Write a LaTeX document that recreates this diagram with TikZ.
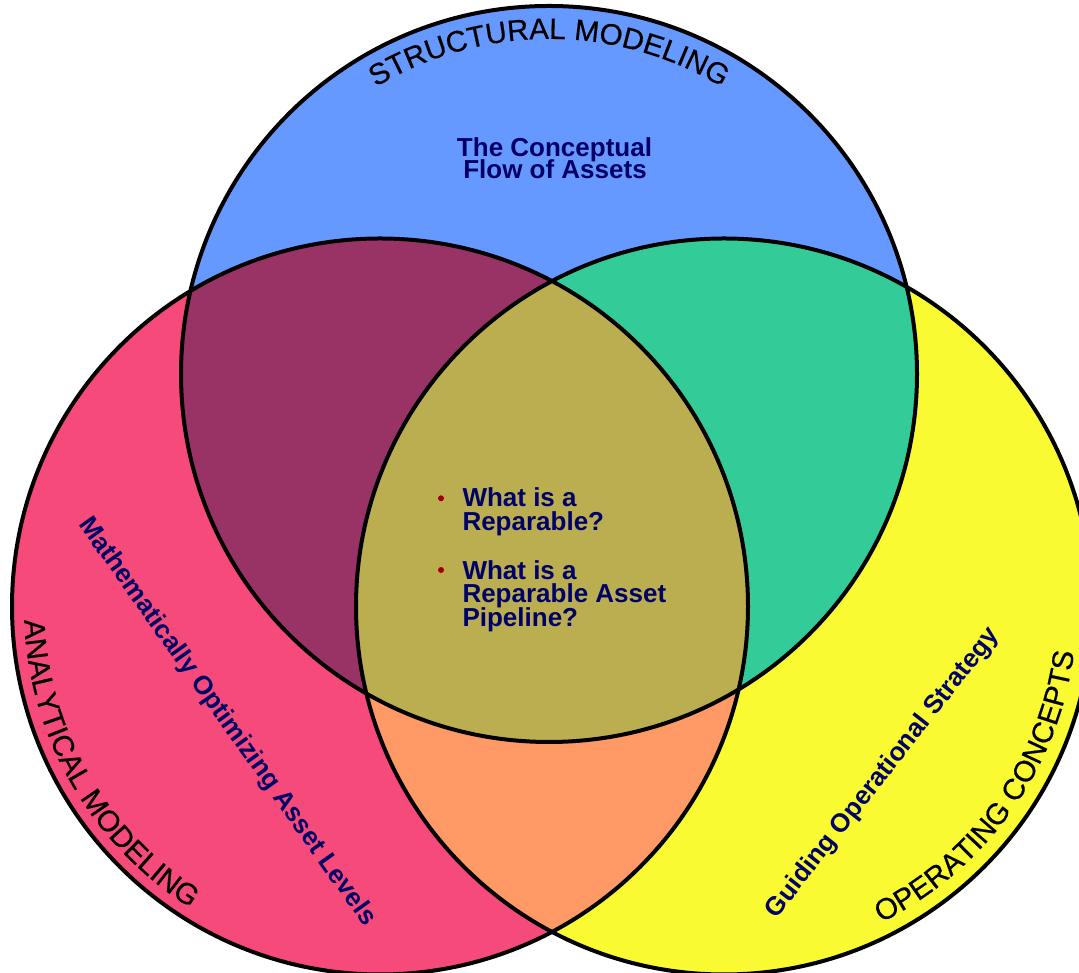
\documentclass[tikz,border=0pt]{standalone}
\usepackage{fontspec}
\setmainfont{Liberation Sans}
\newfontfamily\ringfont[FakeBold=0.5]{Liberation Sans}
\usetikzlibrary{decorations.text}

\definecolor{structBlue}{RGB}{102,153,255}
\definecolor{analyPink}{RGB}{246,74,122}
\definecolor{operYellow}{RGB}{250,250,50}
\definecolor{mixMaroon}{RGB}{153,51,102}
\definecolor{mixTeal}{RGB}{51,204,153}
\definecolor{mixOrange}{RGB}{255,153,102}
\definecolor{mixOlive}{RGB}{187,174,80}
\definecolor{navyText}{RGB}{0,0,102}
\definecolor{bulletRed}{RGB}{160,0,0}

\begin{document}
\begin{tikzpicture}[x=1pt,y=1pt,
  ring/.style={line width=4pt, draw=black},
  note/.style={font=\fontsize{26}{26}\selectfont\bfseries, text=navyText, inner sep=0pt},
  bulletdot/.style={fill=bulletRed, circle, inner sep=0pt, minimum size=6pt},
  arclabel/.style={decorate, decoration={text along path, text align=center,
      text={|\ringfont\fontsize{29.5}{29.5}\selectfont|#1}}}
]
\useasboundingbox (0,0) rectangle (1079,973);

% circle centres
\coordinate (T) at (549,599);
\coordinate (L) at (380,366.5);
\coordinate (R) at (724,366.5);

% base discs
\fill[structBlue] (T) circle[radius=368pt];
\fill[analyPink] (L) circle[radius=368pt];
\fill[operYellow] (R) circle[radius=368pt];

% pairwise overlaps
\begin{scope}
  \clip (T) circle[radius=368pt];
  \fill[mixMaroon] (L) circle[radius=368pt];
\end{scope}
\begin{scope}
  \clip (T) circle[radius=368pt];
  \fill[mixTeal] (R) circle[radius=368pt];
\end{scope}
\begin{scope}
  \clip (L) circle[radius=368pt];
  \fill[mixOrange] (R) circle[radius=368pt];
\end{scope}
% triple overlap
\begin{scope}
  \clip (T) circle[radius=368pt];
  \clip (L) circle[radius=368pt];
  \fill[mixOlive] (R) circle[radius=368pt];
\end{scope}

% outlines
\draw[ring] (T) circle[radius=368pt];
\draw[ring] (L) circle[radius=368pt];
\draw[ring] (R) circle[radius=368pt];

% curved circle titles
\path[arclabel=STRUCTURAL MODELING]
  ([shift={(150:335pt)}]T) arc[start angle=150, end angle=30, radius=335pt];
\path[arclabel=ANALYTICAL MODELING]
  ([shift={(170:356pt)}]L) arc[start angle=170, end angle=250, radius=356pt];
\path[arclabel=OPERATING CONCEPTS]
  ([shift={(-75.5:353pt)}]R) arc[start angle=-75.5, end angle=4.5, radius=353pt];

% top circle note
\node[note, anchor=base] (flow1) at (554.5,816.5) {The Conceptual};
\node[note, anchor=base] (flow2) at (555,794) {Flow of Assets};

% central questions
\node[bulletdot] (b1) at (441,474.7) {};
\node[note, anchor=base west] (q1a) at (462.3,466.3) {What is a};
\node[note, anchor=base west] (q1b) at (462.3,442.8) {Reparable?};
\node[bulletdot] (b2) at (441,403) {};
\node[note, anchor=base west] (q2a) at (462.3,393.7) {What is a};
\node[note, anchor=base west] (q2b) at (462.3,370.2) {Reparable Asset};
\node[note, anchor=base west] (q2c) at (462.3,346.7) {Pipeline?};

% slanted notes
\node[note, rotate=-54.6] (mathopt) at (227,251) {Mathematically Optimizing Asset Levels};
\node[note, rotate=51.8] (guide) at (883,200) {Guiding Operational Strategy};
\end{tikzpicture}
\end{document}
